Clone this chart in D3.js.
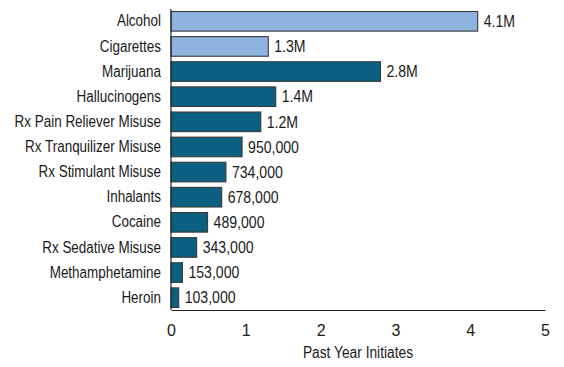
<!DOCTYPE html>
<html>
<head>
<meta charset="utf-8">
<script src="https://cdn.jsdelivr.net/npm/d3@7"></script>
<style>
  body { margin: 0; background: #fff; }
  text { font-family: "Liberation Sans Narrow", "Arial Narrow", "Liberation Sans", sans-serif; fill: #1a1a1a; }
</style>
</head>
<body>
<svg id="chart" width="564" height="367"></svg>
<script>
// categories, top to bottom
const substances = [
    'Alcohol', 'Cigarettes', 'Marijuana', 'Hallucinogens',
    'Rx Pain Reliever Misuse', 'Rx Tranquilizer Misuse', 'Rx Stimulant Misuse',
    'Inhalants', 'Cocaine', 'Rx Sedative Misuse', 'Methamphetamine', 'Heroin'
];
// past year initiates, millions
const initiates = [4.1, 1.3, 2.8, 1.4, 1.2, 0.95, 0.734, 0.678, 0.489, 0.343, 0.153, 0.103];
const valueLabels = ['4.1M', '1.3M', '2.8M', '1.4M', '1.2M', '950,000', '734,000',
    '678,000', '489,000', '343,000', '153,000', '103,000'];
const legalSubstances = ['Alcohol', 'Cigarettes'];
const xTicks = [0, 1, 2, 3, 4, 5];

const plotLeft = 171, plotRight = 545, plotTop = 9, plotBottom = 310;

const svg = d3.select('#chart');

const x = d3.scaleLinear().domain([0, 5]).range([plotLeft, plotRight]);
const y = d3.scaleBand().domain(substances).range([plotTop, plotBottom]).paddingInner(0.22).paddingOuter(0.1);

// squeeze text a bit, the original uses a condensed face
function condense(sel, k) {
    sel.each(function() {
        const len = this.getComputedTextLength();
        d3.select(this).attr('textLength', len * k).attr('lengthAdjust', 'spacingAndGlyphs');
    });
}

// bars
svg.selectAll('rect.bar')
    .data(substances)
    .enter().append('rect')
    .attr('class', 'bar')
    .attr('x', x(0))
    .attr('y', d => y(d))
    .attr('width', (d, i) => x(initiates[i]) - x(0))
    .attr('height', y.bandwidth())
    .style('fill', d => legalSubstances.includes(d) ? '#8fb3df' : '#0b5f80')
    .style('stroke', '#3a3a3a')
    .style('stroke-width', 1.1);

// value labels
svg.selectAll('text.value')
    .data(substances)
    .enter().append('text')
    .attr('class', 'value')
    .attr('x', (d, i) => x(initiates[i]) + 6)
    .attr('y', d => y(d) + y.bandwidth() / 2)
    .attr('dy', '0.36em')
    .style('font-size', '16px')
    .text((d, i) => valueLabels[i])
    .call(condense, 0.88);

// category axis
const yAxis = svg.append('g')
    .attr('transform', `translate(${plotLeft},0)`)
    .call(d3.axisLeft(y).tickSize(0).tickPadding(10));
yAxis.select('.domain').attr('d', `M0,${plotTop}V${plotBottom}`).style('stroke', '#222').style('stroke-width', 1.2);
yAxis.selectAll('text').style('font-size', '16px').attr('fill', '#1a1a1a').call(condense, 0.84);

// value axis
const xAxis = svg.append('g')
    .attr('transform', `translate(0,${plotBottom})`)
    .call(d3.axisBottom(x).tickValues(xTicks).tickFormat(d3.format('d')).tickSize(0).tickPadding(15));
xAxis.select('.domain').style('stroke', '#222').style('stroke-width', 1.2);
xAxis.selectAll('text').style('font-size', '16px').attr('fill', '#1a1a1a');

svg.append('text')
    .attr('x', (plotLeft + plotRight) / 2)
    .attr('y', 358)
    .attr('text-anchor', 'middle')
    .style('font-size', '16px')
    .text('Past Year Initiates')
    .call(condense, 0.86);
</script>
</body>
</html>
